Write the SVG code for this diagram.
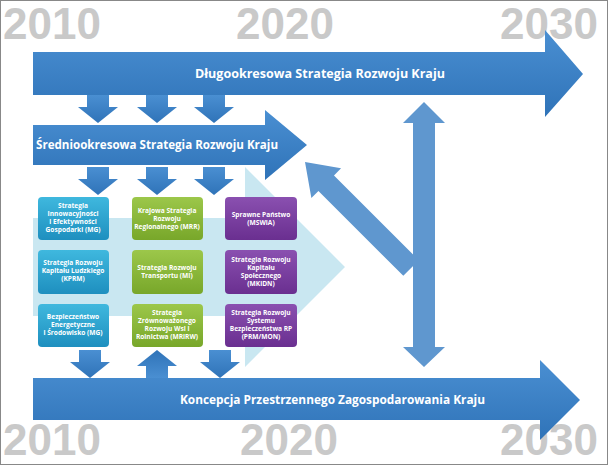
<svg xmlns="http://www.w3.org/2000/svg" width="608" height="465" viewBox="0 0 608 465">
<defs>
<linearGradient id="gb" x1="0" y1="0" x2="0" y2="1"><stop offset="0" stop-color="#4a8fd2"/><stop offset="1" stop-color="#2f73b8"/></linearGradient>
<linearGradient id="gc" x1="0" y1="0" x2="0" y2="1"><stop offset="0" stop-color="#3fb8de"/><stop offset="1" stop-color="#1e8fbf"/></linearGradient>
<linearGradient id="gg" x1="0" y1="0" x2="0" y2="1"><stop offset="0" stop-color="#9cc74a"/><stop offset="1" stop-color="#78a72a"/></linearGradient>
<linearGradient id="gp" x1="0" y1="0" x2="0" y2="1"><stop offset="0" stop-color="#8a50b0"/><stop offset="1" stop-color="#6a2f90"/></linearGradient>
<path id="dn" d="M-11,0 H11 V12 H20 L0,28 L-20,12 H-11 Z"/>
</defs>
<style>
.yr{font-family:"Liberation Sans",Arial,sans-serif;font-weight:bold;font-size:44px;fill:#c9c9c9}
.big{font-family:"Open Sans","Liberation Sans",sans-serif;font-weight:bold;font-size:12px;fill:#fff}
.bx{font-family:"Open Sans","Liberation Sans",sans-serif;font-weight:bold;font-size:6.6px;fill:#fff;text-anchor:middle}
.ar{fill:url(#gb)}
.va{fill:#5f97cf}
</style>
<rect x="0.5" y="0.5" width="607" height="464" fill="#fff" stroke="#888"/>
<g id="years">
<text class="yr" x="3" y="39">2010</text><text class="yr" x="236" y="39">2020</text><text class="yr" x="500" y="39">2030</text>
<text class="yr" x="3" y="455">2010</text><text class="yr" x="240" y="455">2020</text><text class="yr" x="500" y="455">2030</text>
</g>
<g id="bg-arrow"><path d="M33,218 H245 V167 L345,267 L245,367 V316 H33 Z" fill="#bfe3ee" opacity="0.85"/></g>
<g id="connectors">
<use href="#dn" class="ar" x="98" y="95"/><use href="#dn" class="ar" x="157" y="95"/><use href="#dn" class="ar" x="214" y="95"/>
<use href="#dn" class="ar" x="98" y="167"/><use href="#dn" class="ar" x="157" y="167"/><use href="#dn" class="ar" x="214" y="167"/>
<use href="#dn" class="ar" x="90" y="350"/><use href="#dn" class="ar" transform="translate(157,378) scale(1,-1)"/><use href="#dn" class="ar" x="220" y="350"/>
<path class="va" transform="translate(305,162) rotate(45)" d="M0,0 L30,-21 V-11 H150 V11 H30 V21 Z"/>
<path class="va" d="M424,102 L445,123 H435 V347 H445 L424,367 L403,347 H413 V123 H403 Z"/>
</g>
<g id="long"><path class="ar" d="M33,52 H545 V30 L583,74 L545,117 V95 H33 Z"/><text class="big" x="195" y="78" textLength="250" lengthAdjust="spacingAndGlyphs">Długookresowa Strategia Rozwoju Kraju</text></g>
<g id="mid"><path class="ar" d="M33,125 H265 V110 L307,145 L265,180 V165 H33 Z"/><text class="big" x="36" y="149" textLength="242" lengthAdjust="spacingAndGlyphs">Średniookresowa Strategia Rozwoju Kraju</text></g>
<g id="kpzk"><path class="ar" d="M33,378 H540 V360 L580,400 L540,440 V420 H33 Z"/><text class="big" x="180" y="404" textLength="305" lengthAdjust="spacingAndGlyphs">Koncepcja Przestrzennego Zagospodarowania Kraju</text></g>
<g id="b11"><rect x="38" y="197" width="71" height="43" rx="4" fill="url(#gc)"/><text class="bx" x="73" y="208">Strategia<tspan x="73" dy="8">Innowacyjności</tspan><tspan x="73" dy="8">i Efektywności</tspan><tspan x="73" dy="8">Gospodarki (MG)</tspan></text></g>
<g id="b21"><rect x="38" y="250" width="71" height="44" rx="4" fill="url(#gc)"/><text class="bx" x="73" y="265">Strategia Rozwoju<tspan x="73" dy="8">Kapitału Ludzkiego</tspan><tspan x="73" dy="8">(KPRM)</tspan></text></g>
<g id="b31"><rect x="38" y="304" width="71" height="43" rx="4" fill="url(#gc)"/><text class="bx" x="73" y="319">Bezpieczeństwo<tspan x="73" dy="8">Energetyczne</tspan><tspan x="73" dy="8">i Środowisko (MG)</tspan></text></g>
<g id="b12"><rect x="132" y="197" width="71" height="43" rx="4" fill="url(#gg)"/><text class="bx" x="167" y="213">Krajowa Strategia<tspan x="167" dy="8">Rozwoju</tspan><tspan x="167" dy="8">Regionalnego (MRR)</tspan></text></g>
<g id="b22"><rect x="132" y="250" width="71" height="44" rx="4" fill="url(#gg)"/><text class="bx" x="167" y="270">Strategia Rozwoju<tspan x="167" dy="8">Transportu (MI)</tspan></text></g>
<g id="b32"><rect x="132" y="304" width="71" height="43" rx="4" fill="url(#gg)"/><text class="bx" x="167" y="315">Strategia<tspan x="167" dy="8">Zrównoważonego</tspan><tspan x="167" dy="8">Rozwoju Wsi i</tspan><tspan x="167" dy="8">Rolnictwa (MRiRW)</tspan></text></g>
<g id="b13"><rect x="225" y="197" width="72" height="43" rx="4" fill="url(#gp)"/><text class="bx" x="261" y="217">Sprawne Państwo<tspan x="261" dy="8">(MSWiA)</tspan></text></g>
<g id="b23"><rect x="225" y="250" width="72" height="44" rx="4" fill="url(#gp)"/><text class="bx" x="261" y="262">Strategia Rozwoju<tspan x="261" dy="8">Kapitału</tspan><tspan x="261" dy="8">Społecznego</tspan><tspan x="261" dy="8">(MKiDN)</tspan></text></g>
<g id="b33"><rect x="225" y="304" width="72" height="43" rx="4" fill="url(#gp)"/><text class="bx" x="261" y="315">Strategia Rozwoju<tspan x="261" dy="8">Systemu</tspan><tspan x="261" dy="8">Bezpieczeństwa RP</tspan><tspan x="261" dy="8">(PRM/MON)</tspan></text></g>
</svg>
